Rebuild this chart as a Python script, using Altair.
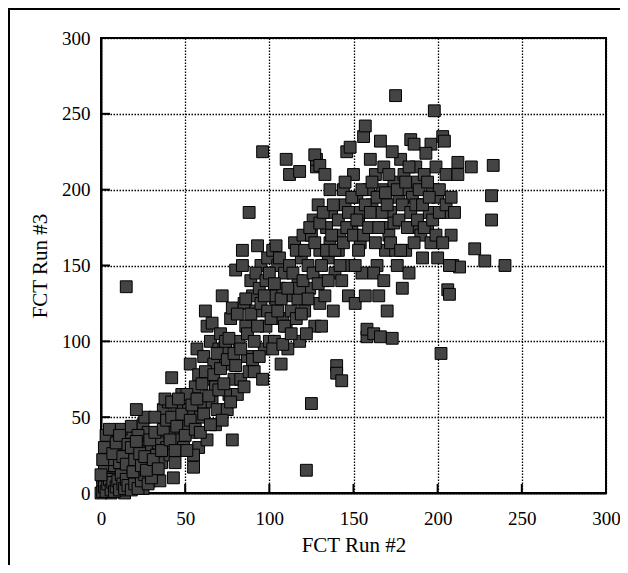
import altair as alt
import pandas as pd

# FCT Run #2 (x) vs FCT Run #3 (y)
x_vals = [
    2, 3, 5, 1, 4, 6, 3, 8, 7, 9, 2, 5, 6, 8, 1, 10, 9, 4,
    12, 14, 11, 15, 13, 17, 18, 16, 19, 12, 15, 18, 20, 14, 17,
    21, 22, 24, 25, 23, 27, 28, 26, 29, 21, 25, 28, 30, 22,
    31, 33, 35, 37, 34, 38, 36, 32, 39, 40, 35, 38,
    42, 41, 43, 45, 47, 48, 44, 46, 49, 42, 50, 43,
    52, 55, 54, 56, 58, 53, 57, 59, 51, 55, 58, 60, 52,
    62, 63, 61, 64, 66, 68, 65, 67, 69, 63, 70, 66, 68,
    72, 71, 74, 76, 78, 73, 77, 79, 75, 80, 78, 72,
    82, 84, 85, 87, 88, 83, 86, 89, 81, 90, 84, 88,
    92, 95, 97, 96, 93, 98, 91, 94, 99, 100, 96, 92,
    102, 104, 106, 103, 108, 105, 107, 109, 101, 110, 104, 110,
    112, 115, 117, 113, 118, 114, 116, 119, 111, 120, 117, 118,
    122, 125, 121, 123, 126, 128, 124, 127, 129, 130, 122, 128, 125, 130, 127, 130,
    132, 134, 136, 138, 133, 135, 137, 139, 131, 140, 140, 136, 133,
    143, 142, 144, 146, 148, 145, 147, 149, 141, 150, 143, 148,
    152, 154, 156, 157, 158, 158, 153, 155, 159, 151, 160, 157, 154,
    162, 166, 164, 166, 168, 161, 163, 165, 167, 169, 170, 162, 168,
    173, 175, 172, 174, 176, 178, 171, 177, 179, 180, 175, 173,
    184, 182, 185, 187, 189, 181, 183, 186, 188, 190, 185,
    196, 193, 192, 195, 198, 197, 191, 194, 199, 196, 200,
    203, 204, 202, 206, 207, 201, 203, 205, 208, 209,
    212, 212, 213, 220, 222, 228, 232, 232, 233, 240,
    0, 1, 2, 3, 4, 5, 6, 7, 8, 9, 10, 11, 12, 13, 14, 15, 16, 18, 20, 22, 24, 26, 28, 30,
    0, 1, 2, 3, 5, 7, 9, 11, 13, 15, 16, 18, 19, 20, 21, 23, 24, 26, 27, 29,
    31, 32, 34, 36, 37, 39, 41, 42, 44, 45, 46, 48, 50, 51, 53, 54, 56, 57, 59,
    60, 61, 62, 64, 65, 67, 69, 70, 71, 73, 74, 75, 76, 77, 79, 80,
    81, 83, 85, 86, 87, 89, 90, 91, 93, 94, 95, 97, 98, 99, 100,
    101, 102, 103, 105, 106, 107, 108, 109, 111, 112, 113, 114, 116, 118, 119, 120,
    121, 123, 124, 126, 127, 129, 130, 131, 132, 134, 135, 137, 138, 139,
    141, 142, 144, 145, 146, 147, 149, 150, 151, 152, 153, 155, 156, 157, 159, 160,
    161, 163, 164, 165, 167, 168, 169, 170, 171, 172, 174, 176, 177, 178, 179,
    181, 182, 183, 184, 186, 187, 188, 189, 191, 192, 194, 195, 197, 199, 200,
    201, 203, 205, 207, 208, 210,
]
y_vals = [
    2, 8, 3, 10, 15, 20, 25, 5, 12, 28, 18, 30, 0, 18, 5, 35, 10, 22,
    5, 12, 20, 28, 35, 40, 8, 18, 25, 42, 136, 44, 15, 0, 3,
    5, 20, 30, 45, 12, 35, 22, 50, 8, 55, 3, 40, 28, 38,
    15, 25, 40, 55, 33, 45, 20, 50, 30, 60, 8, 62,
    76, 25, 40, 55, 35, 65, 20, 48, 30, 60, 45, 10,
    55, 17, 40, 70, 30, 85, 95, 50, 65, 25, 78, 60, 45,
    120, 110, 90, 75, 60, 45, 100, 85, 55, 35, 95, 112, 70,
    130, 105, 85, 65, 35, 95, 115, 75, 55, 147, 122, 48,
    100, 150, 125, 90, 185, 75, 110, 140, 65, 130, 160, 80,
    120, 150, 95, 225, 163, 110, 80, 135, 155, 100, 75, 145,
    160, 125, 135, 100, 115, 150, 85, 145, 130, 110, 163, 220,
    210, 165, 140, 120, 100, 130, 115, 155, 95, 170, 128, 212,
    15, 59, 120, 150, 180, 215, 135, 110, 190, 160, 105, 220, 170, 125, 223, 216,
    140, 175, 200, 120, 210, 155, 185, 145, 110, 84, 79, 165, 130,
    74, 170, 200, 225, 150, 190, 130, 175, 160, 210, 140, 228,
    195, 165, 235, 242, 103, 108, 180, 145, 200, 125, 220, 130, 185,
    105, 103, 150, 232, 175, 190, 210, 130, 200, 160, 120, 145, 215,
    102, 262, 185, 205, 150, 220, 170, 195, 135, 210, 160, 225,
    233, 200, 175, 215, 190, 160, 145, 230, 205, 170, 195,
    230, 224, 210, 185, 252, 200, 155, 175, 215, 165, 195,
    235, 232, 92, 134, 131, 200, 185, 210, 170, 150,
    218, 210, 149, 215, 161, 153, 196, 180, 216, 150,
    0, 1, 4, 1, 6, 9, 2, 7, 1, 4, 8, 2, 12, 6, 3, 9, 5, 2, 6, 3, 8, 12, 6, 10,
    12, 22, 30, 38, 42, 26, 33, 38, 24, 19, 32, 30, 14, 22, 34, 26, 18, 24, 15, 35,
    22, 40, 16, 28, 42, 48, 35, 50, 28, 44, 62, 52, 38, 28, 48, 58, 42, 62, 40,
    72, 52, 80, 64, 45, 78, 92, 68, 82, 72, 100, 88, 102, 60, 92, 84,
    118, 95, 70, 128, 105, 118, 88, 100, 110, 90, 125, 130, 140, 120, 145,
    115, 95, 138, 120, 155, 128, 98, 110, 135, 150, 105, 145, 160, 135, 118, 140,
    160, 128, 175, 145, 165, 138, 178, 150, 185, 160, 140, 170, 190, 160,
    180, 150, 165, 205, 175, 185, 195, 170, 150, 180, 160, 200, 170, 190, 175, 185,
    205, 165, 195, 175, 185, 140, 198, 190, 210, 165, 178, 200, 180, 160, 190,
    205, 175, 215, 185, 165, 190, 180, 200, 190, 175, 205, 195, 180, 170, 155,
    185, 165, 190, 150, 195, 185,
]
tick_values = [0, 50, 100, 150, 200, 250, 300]

FONT = "Liberation Serif"

points = pd.DataFrame({"x": x_vals, "y": y_vals})
ticks = pd.DataFrame({"v": tick_values})
one = pd.DataFrame({"k": [0]})

xscale = alt.Scale(domain=[0, 300], nice=False, zero=False)
yscale = alt.Scale(domain=[0, 300], nice=False, zero=False)

common = dict(values=tick_values, grid=True, gridColor="black", gridDash=[1.5, 1.5],
              gridWidth=1.3, gridOpacity=1, tickSize=0, domainColor="black", domainWidth=2,
              labelFont=FONT, labelFontSize=19, labelColor="black", titleFont=FONT,
              titleFontSize=21, titleFontWeight="normal", titleColor="black",
              labelFlush=False)
xaxis = alt.Axis(title="FCT Run #2", labelPadding=16, titlePadding=6, **common)
yaxis = alt.Axis(title="FCT Run #3", labelPadding=11, titlePadding=11, **common)

frame_v = alt.Chart(one).mark_rule(color="black", strokeWidth=2, clip=False).encode(
    x=alt.value(-92), y=alt.value(-30), y2=alt.value(700))
frame_h = alt.Chart(one).mark_rule(color="black", strokeWidth=2, clip=False).encode(
    y=alt.value(-29), x=alt.value(-93), x2=alt.value(800))

xticks = alt.Chart(ticks).mark_rule(color="black", strokeWidth=2).encode(
    x=alt.X("v:Q", scale=xscale, axis=xaxis), y=alt.value(446), y2=alt.value(455))
yticks = alt.Chart(ticks).mark_rule(color="black", strokeWidth=2).encode(
    y=alt.Y("v:Q", scale=yscale, axis=yaxis), x=alt.value(0), x2=alt.value(9))

pts = alt.Chart(points).mark_square(size=140, color="#444444", stroke="black",
                                    strokeWidth=1, opacity=1, filled=True).encode(
    x=alt.X("x:Q", scale=xscale, axis=xaxis),
    y=alt.Y("y:Q", scale=yscale, axis=yaxis),
)

chart = alt.layer(frame_v, frame_h, xticks, yticks, pts).properties(
    width=505, height=455,
    autosize=alt.AutoSizeParams(type="none"),
    padding={"left": 93, "top": 30, "right": 14, "bottom": 72},
    background="white",
).configure_view(stroke="black", strokeWidth=2)

chart.save("out.html", embed_options={"renderer": "svg", "actions": False})
